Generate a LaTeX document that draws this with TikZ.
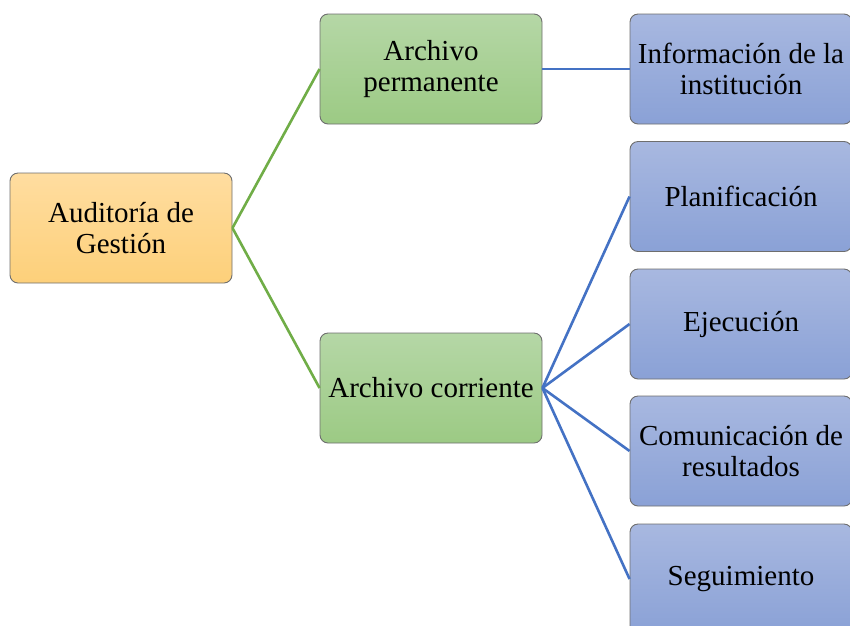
\documentclass[tikz,border=0pt]{standalone}
\usepackage{fontspec}
\setmainfont{Liberation Serif}
\definecolor{orTop}{HTML}{FFDDA0}
\definecolor{orBot}{HTML}{FDD07A}
\definecolor{grTop}{HTML}{B5D7A6}
\definecolor{grBot}{HTML}{9CCA84}
\definecolor{blTop}{HTML}{A8B8E0}
\definecolor{blBot}{HTML}{8AA1D6}
\definecolor{boxBorder}{HTML}{6E6E6E}
\definecolor{lnGreen}{HTML}{70AD47}
\definecolor{lnBlue}{HTML}{4472C4}
\tikzset{
  boxbase/.style={rectangle, rounded corners=8pt, draw=boxBorder, line width=0.9pt,
    minimum width=222pt, minimum height=110pt, inner sep=0pt, align=center,
    font=\fontsize{29}{30.5}\selectfont},
  orbox/.style={boxbase, top color=orTop, bottom color=orBot},
  grbox/.style={boxbase, top color=grTop, bottom color=grBot},
  blbox/.style={boxbase, top color=blTop, bottom color=blBot},
  gline/.style={draw=lnGreen, line width=2.6pt},
  bline/.style={draw=lnBlue, line width=2.6pt}
}
\begin{document}
\begin{tikzpicture}[x=1pt, y=-1pt]
\useasboundingbox (0,0) rectangle (850,625);
\clip (0,0) rectangle (850,625);
\node[orbox] (root) at (121,228) {Auditoría de\\Gestión};
\node[grbox] (ap) at (431,69) {Archivo\\permanente};
\node[grbox] (ac) at (431,388) {Archivo corriente};
\node[blbox] (info) at (741,69) {Información de la\\institución};
\node[blbox] (plan) at (741,196.5) {Planificación};
\node[blbox] (ejec) at (741,324) {Ejecución};
\node[blbox] (comm) at (741,451) {Comunicación de\\resultados};
\node[blbox] (seg) at (741,579) {Seguimiento};
\draw[gline] (root.east) -- (ap.west);
\draw[gline] (root.east) -- (ac.west);
\draw[bline] (ap.east) -- (info.west);
\draw[bline] (ac.east) -- (plan.west);
\draw[bline] (ac.east) -- (ejec.west);
\draw[bline] (ac.east) -- (comm.west);
\draw[bline] (ac.east) -- (seg.west);
\end{tikzpicture}
\end{document}
